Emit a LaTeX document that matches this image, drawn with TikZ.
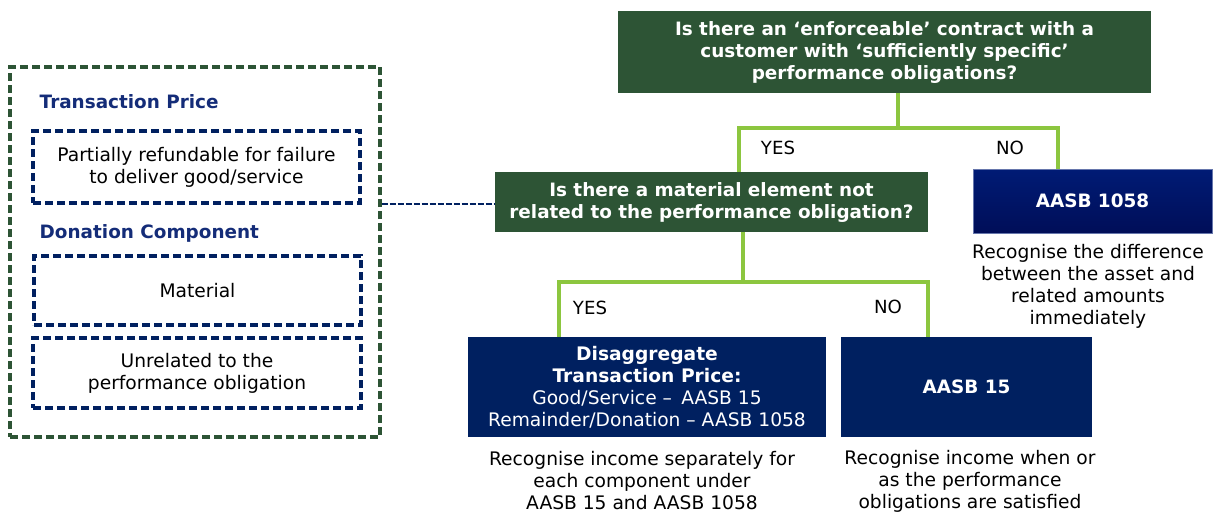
\documentclass[tikz,border=0pt]{standalone}
\usepackage{fontspec}
\setmainfont{DejaVu Sans}
\usetikzlibrary{calc}
\definecolor{darkgreen}{RGB}{45,84,53}
\definecolor{navy}{RGB}{0,32,96}
\definecolor{headblue}{RGB}{20,44,120}
\definecolor{lime}{RGB}{140,198,63}
\definecolor{gradtop}{RGB}{0,27,117}
\definecolor{gradbot}{RGB}{0,14,88}

\begin{document}
\begin{tikzpicture}[x=0.75pt,y=-0.75pt,
    qbox/.style={fill=darkgreen, text=white, align=center, inner sep=0pt,
      font=\bfseries\fontsize{13.8}{16.5}\selectfont},
    rbox/.style={fill=navy, text=white, align=center, inner sep=0pt,
      font=\fontsize{14}{16.5}\selectfont},
    dbox/.style={draw=navy, line width=2.3pt, dash pattern=on 6pt off 3pt,
      align=center, inner sep=0pt, font=\fontsize{14}{16.5}\selectfont},
    head/.style={anchor=west, text=headblue, font=\bfseries\fontsize{13.8}{16}\selectfont},
    caption/.style={align=center, font=\fontsize{14}{16.5}\selectfont},
    branch/.style={draw=lime, line width=3pt},
    lbl/.style={font=\fontsize{13.6}{16}\selectfont}]
  \useasboundingbox (0,0) rectangle (1216,515);

  % Left panel
  \node[draw=darkgreen, line width=2.3pt, dash pattern=on 6pt off 3pt,
    minimum width=277.5pt, minimum height=277.5pt] (panel) at (195,252) {};
  \node[head] (tphead) at (35,102) {Transaction Price};
  \node[dbox, minimum width=245.25pt, minimum height=54pt] (refund) at (196.5,167)
    {Partially refundable for failure\\to deliver good/service};
  \node[head] (dchead) at (35,233) {Donation Component};
  \node[dbox, minimum width=245.25pt, minimum height=51.75pt] (material) at (197.5,290.5)
    {Material};
  \node[dbox, minimum width=246pt, minimum height=52.5pt] (unrel) at (197,373)
    {Unrelated to the\\performance obligation};

  % Decision boxes
  \node[qbox, minimum width=399.75pt, minimum height=61.5pt] (contract) at (884.5,52)
    {Is there an ‘enforceable’ contract with a\\customer with ‘sufficiently specific’\\performance obligations?};
  \node[qbox, minimum width=324.75pt, minimum height=45pt] (element) at (711.5,202)
    {Is there a material element not\\related to the performance obligation?};
  \node[rbox, top color=gradtop, bottom color=gradbot, draw=gradtop!60!white, line width=0.6pt,
    minimum width=179.25pt, minimum height=48pt, font=\bfseries\fontsize{13.8}{16}\selectfont]
    (r1058) at (1092.5,201) {AASB 1058};
  \node[rbox, minimum width=268.5pt, minimum height=75pt] (disagg) at (647,387)
    {\textbf{Disaggregate}\\\textbf{Transaction Price:}\\Good/Service –\enspace AASB 15\\Remainder/Donation – AASB 1058};
  \node[rbox, minimum width=188.25pt, minimum height=75pt,
    font=\bfseries\fontsize{13.8}{16}\selectfont] (r15) at (966.5,387) {AASB 15};

  % Captions
  \node[caption] (cap1058) at (1088,286.5)
    {Recognise the difference\\between the asset and\\related amounts\\immediately};
  \node[caption] (capdis) at (642,481)
    {Recognise income separately for\\each component under\\AASB 15 and AASB 1058};
  \node[caption] (cap15) at (970,481)
    {Recognise income when or\\as the performance\\obligations are satisfied};

  % Branches
  \coordinate (split1) at (898,128);
  \coordinate (yes1) at (739,128);
  \coordinate (no1) at (1058,128);
  \draw[branch] (split1 |- contract.south) -- (split1);
  \draw[branch] (yes1 |- element.north) -- (yes1) -- (no1) -- (no1 |- r1058.north);
  \node[lbl] (yes1lbl) at (778,148) {YES};
  \node[lbl] (no1lbl) at (1010,148) {NO};

  \coordinate (split2) at (743,282);
  \coordinate (yes2) at (559,282);
  \coordinate (no2) at (928,282);
  \draw[branch] (split2 |- element.south) -- (split2);
  \draw[branch] (yes2 |- disagg.north) -- (yes2) -- (no2) -- (no2 |- r15.north);
  \node[lbl] (yes2lbl) at (590,308) {YES};
  \node[lbl] (no2lbl) at (888,307) {NO};

  % Link from panel
  \draw[navy, line width=1.5pt, dash pattern=on 4.5pt off 1.5pt]
    (panel.east |- 0,204) -- (element.west |- 0,204);
\end{tikzpicture}
\end{document}
